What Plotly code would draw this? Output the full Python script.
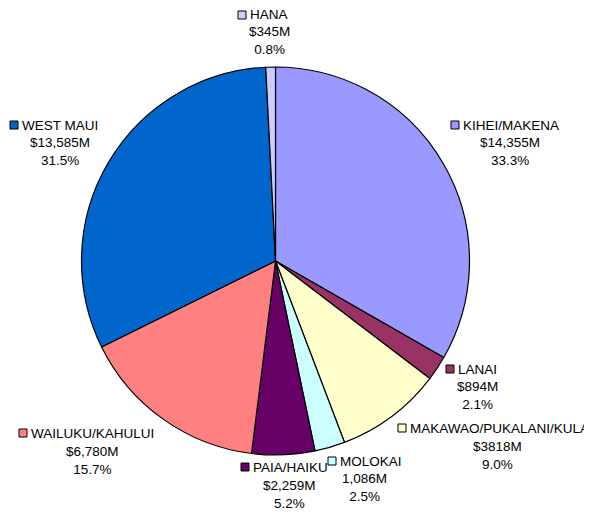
import plotly.graph_objects as go

# The page body has an 8px margin, so the figure is drawn 8px in from the window corner.
OFF = 8
W, H = 592 - OFF, 515 - OFF

regions = ["KIHEI/MAKENA", "LANAI", "MAKAWAO/PUKALANI/KULA", "MOLOKAI",
           "PAIA/HAIKU", "WAILUKU/KAHULUI", "WEST MAUI", "HANA"]
values = [14355, 894, 3818, 1086, 2259, 6780, 13585, 345]
value_labels = ["$14,355M", "$894M", "$3818M", "1,086M",
                "$2,259M", "$6,780M", "$13,585M", "$345M"]
pct_labels = ["33.3%", "2.1%", "9.0%", "2.5%", "5.2%", "15.7%", "31.5%", "0.8%"]
colors = ["#9999FF", "#993366", "#FFFFCC", "#CCFFFF",
          "#660066", "#FF8080", "#0066CC", "#CCCCFF"]

# label layout (window pixels): square-left x, name-left x, name y, value-center x, value y
label_pos = {
    "KIHEI/MAKENA": (451, 462, 125, 510, 142),
    "LANAI": (446, 457, 369, 477, 386),
    "MAKAWAO/PUKALANI/KULA": (398, 409, 428, 497, 446),
    "MOLOKAI": (328, 339, 461, 364, 478),
    "PAIA/HAIKU": (241, 252, 467, 289, 485),
    "WAILUKU/KAHULUI": (19, 30, 433, 92, 451),
    "WEST MAUI": (10, 21, 125, 60, 142),
    "HANA": (238, 249, 15, 269, 31),
}


def px(x):
    return (x - OFF) / W


def py(y):
    return 1 - (y - OFF) / H


cx, cy, r = 275.5, 261, 194
fig = go.Figure(go.Pie(
    labels=regions, values=values, sort=False, direction="clockwise", rotation=0,
    marker=dict(colors=colors, line=dict(color="black", width=1.2)),
    textinfo="none", hoverinfo="label+value+percent", showlegend=False,
    domain=dict(x=[px(cx - r), px(cx + r)], y=[py(cy + r), py(cy - r)]),
))

font = dict(family="Liberation Sans, Arial, sans-serif", size=13.5, color="black")
annotations = []
shapes = []
for name, val, pct, col in zip(regions, value_labels, pct_labels, colors):
    sqx, nx, ny, vx, vy = label_pos[name]
    annotations.append(dict(x=px(nx), y=py(ny), xref="paper", yref="paper",
                            text=name, showarrow=False, xanchor="left", yanchor="middle",
                            borderpad=0, font=font))
    annotations.append(dict(x=px(vx), y=py(vy - 9), xref="paper", yref="paper",
                            text=f"{val}<br>{pct}", showarrow=False, xanchor="center",
                            yanchor="top", align="center", font=font))
    shapes.append(dict(type="rect", xref="paper", yref="paper",
                       x0=px(sqx), x1=px(sqx + 8),
                       y0=py(ny + 4), y1=py(ny - 4),
                       fillcolor=col, line=dict(color="black", width=1)))

fig.update_layout(width=W, height=H, margin=dict(l=0, r=0, t=0, b=0),
                  paper_bgcolor="white", plot_bgcolor="white",
                  annotations=annotations, shapes=shapes)
fig.write_html("out.html")
